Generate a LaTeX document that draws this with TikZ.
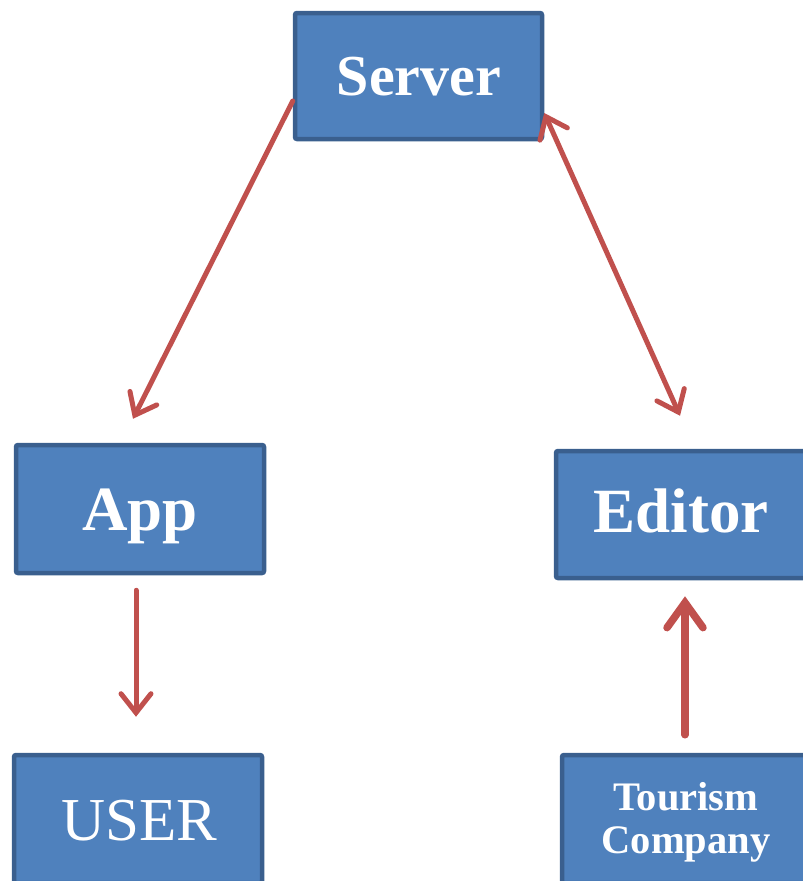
\documentclass[tikz,border=0pt]{standalone}
\usepackage{fontspec}
\setmainfont{Liberation Serif}
\usetikzlibrary{arrows.meta,calc}
\definecolor{boxfill}{HTML}{4F81BD}
\definecolor{boxline}{HTML}{3A5F8E}
\definecolor{linkred}{HTML}{C0504D}
\tikzset{
  block/.style={draw=boxline, fill=boxfill, line width=4.5pt, rounded corners=2pt,
    inner sep=0pt},
  label/.style={text=white, align=center, inner sep=0pt, anchor=base},
  barb/.tip={Straight Barb[length=19pt,width=30pt,line cap=round]},
  link/.style={draw=linkred, line width=5pt, line cap=round, arrows={-barb}},
  biglink/.style={draw=linkred, line width=7.5pt, line cap=round,
    arrows={-Straight Barb[length=25pt,width=36pt,line cap=round]}},
}
\begin{document}
\begin{tikzpicture}[x=1pt,y=-1pt]
\useasboundingbox (0,0) rectangle (803,881);
\clip (0,0) rectangle (803,881);

% boxes
\node[block, minimum width=247pt, minimum height=126pt] (server) at (418.5,76) {};
\node[block, minimum width=248pt, minimum height=128pt] (app) at (140,509) {};
\node[block, minimum width=250pt, minimum height=127pt] (editor) at (681,514.5) {};
\node[block, minimum width=248pt, minimum height=128pt] (user) at (138,819) {};
\node[block, minimum width=248pt, minimum height=128pt] (tourism) at (686,819) {};

% box texts
\node[label, font=\fontsize{58}{62}\selectfont\bfseries] (servertext) at (419,95) {Server};
\node[label, font=\fontsize{63}{66}\selectfont\bfseries] (apptext) at (140,530) {App};
\node[label, font=\fontsize{63}{66}\selectfont\bfseries] (editortext) at (681,532) {Editor};
\node[label, font=\fontsize{61}{64}\selectfont] (usertext) at (139.5,840) {USER};
\node[label, font=\fontsize{40.5}{43}\selectfont\bfseries] (tourismtext) at (686,810) {Tourism};
\node[label, font=\fontsize{40.5}{43}\selectfont\bfseries] (companytext) at (686,853) {Company};

% connectors
\draw[link] ($(server.west)+(0,25)$) -- ($(app.north)+(-7,-24)$);
\draw[link, arrows={barb-barb}]
  ($(server.east)+(0,37)$) -- ($(editor.north)+(-1,-33)$);
\draw[link] ($(app.south)+(-4,15)$) -- ($(user.north)+(-2,-36)$);
\draw[biglink] ($(tourism.north)+(-1,-18)$) -- ($(editor.south)+(4,16)$);
\end{tikzpicture}
\end{document}
